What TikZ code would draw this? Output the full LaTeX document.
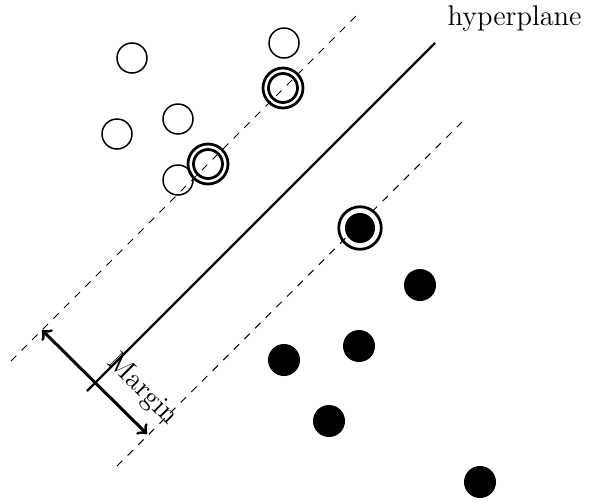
\documentclass[tikz,border=0pt]{standalone}
\begin{document}
\begin{tikzpicture}[x=0.4pt,y=-0.4pt,
  every node/.append style={font=\fontsize{11.4}{13.5}\selectfont},
  hollow/.style={circle,draw,line width=0.6pt,minimum size=12pt,inner sep=0pt},
  solid/.style={circle,fill=black,minimum size=12.8pt,inner sep=0pt},
  hollowsv/.style={circle,draw,line width=1.1pt,minimum size=11.6pt,inner sep=0pt},
  ring/.style={circle,draw,line width=1.1pt,minimum size=16pt,inner sep=0pt},
  solidcore/.style={circle,fill=black,minimum size=12pt,inner sep=0pt},
  solidring/.style={circle,draw,line width=1.1pt,minimum size=17pt,inner sep=0pt},
  margline/.style={dashed,line width=0.4pt},
  planeline/.style={line width=0.9pt}]
\useasboundingbox (0,0) rectangle (598,501);

% hyperplane and the two margin lines
\coordinate (h1) at (87,391);
\coordinate (h2) at (435,43);
\coordinate (u1) at (11,361);
\coordinate (u2) at (356,16);
\coordinate (l1) at (117,466);
\coordinate (l2) at (462,122);
\draw[planeline] (h1) -- (h2);
\draw[margline] (u1) -- (u2);
\draw[margline] (l1) -- (l2);

% class A points
\node[hollow] (a1) at (132,58) {};
\node[hollow] (a2) at (284,43) {};
\node[hollow] (a3) at (117,134) {};
\node[hollow] (a4) at (178,119) {};
\node[hollow] (a5) at (178,180) {};
\node[hollowsv] (s1) at (208,164) {};
\node[ring] (r1) at (208,164) {};
\node[hollowsv] (s2) at (283,88) {};
\node[ring] (r2) at (283,88) {};

% class B points
\node[solidcore] (b0) at (360,228) {};
\node[solidring] (r3) at (360,228) {};
\node[solid] (b1) at (420,285) {};
\node[solid] (b2) at (359,346) {};
\node[solid] (b3) at (284,360) {};
\node[solid] (b4) at (329,421) {};
\node[solid] (b5) at (480,482) {};

% margin arrow
\coordinate (m1) at (42,330);
\coordinate (m2) at (147,434);
\draw[<->,line width=1.2pt] (m1) -- (m2);
\node[rotate=-45] (mlabel) at (142,390) {Margin};

\node[anchor=base west,inner sep=0pt] (hlabel) at (447,25) {hyperplane};
\end{tikzpicture}
\end{document}
